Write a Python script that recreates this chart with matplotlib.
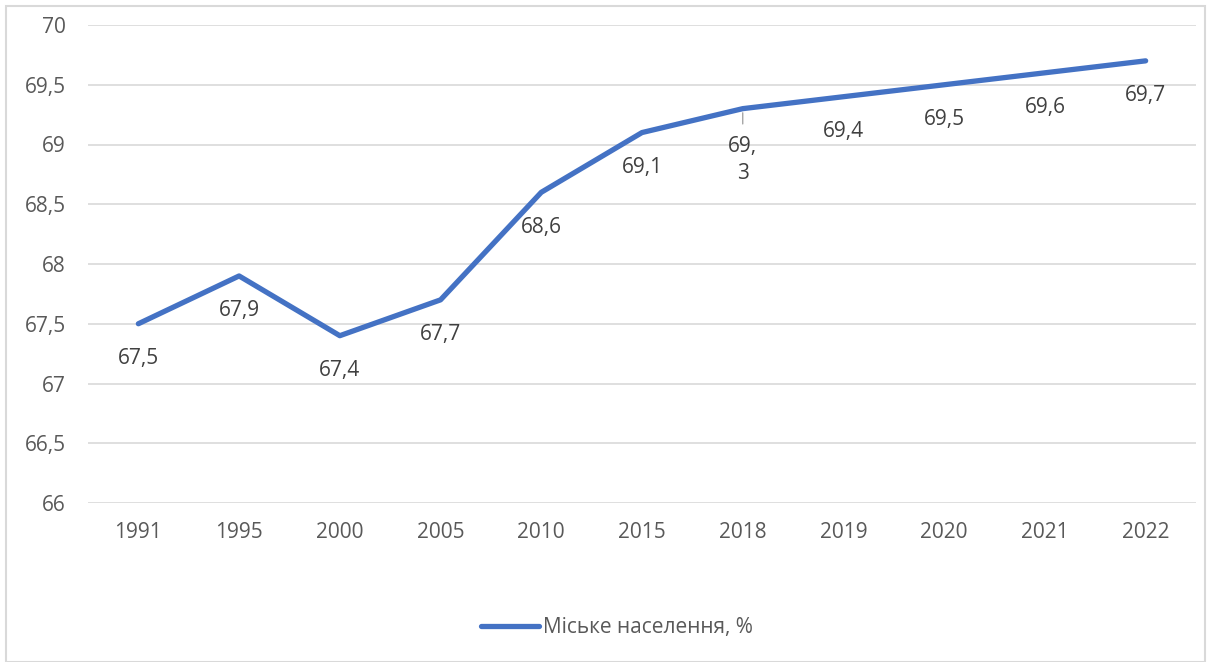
import matplotlib.pyplot as plt
from matplotlib.patches import Rectangle

years = ["1991", "1995", "2000", "2005", "2010", "2015", "2018", "2019", "2020", "2021", "2022"]
urban = [67.5, 67.9, 67.4, 67.7, 68.6, 69.1, 69.3, 69.4, 69.5, 69.6, 69.7]
y_ticks = [66, 66.5, 67, 67.5, 68, 68.5, 69, 69.5, 70]

plt.rcParams['font.family'] = ['Open Sans', 'DejaVu Sans']
grey = "#595959"
fs = 15

fig = plt.figure(figsize=(12.12, 6.62), dpi=100)
fig.patches.append(Rectangle((6 / 1212, 0.0), 1199 / 1212, 656 / 662,
                             transform=fig.transFigure, fill=False,
                             edgecolor="#D9D9D9", linewidth=1.5))
ax = fig.add_axes([88 / 1212, 1 - 503 / 662, 1108 / 1212, 478 / 662])

x = list(range(len(years)))
ax.plot(x, urban, color="#4472C4", linewidth=3.8, solid_capstyle="round",
        label="Міське населення, %")

# data labels below points
for i, v in enumerate(urban):
    txt = f"{v:.1f}".replace(".", ",")
    if years[i] == "2018":
        ax.annotate("", xy=(i, v), xytext=(0, -11), textcoords="offset points",
                    arrowprops=dict(arrowstyle="-", color="#A6A6A6", lw=1,
                                    shrinkA=0, shrinkB=3))
        ax.annotate("69,\n3", xy=(i, v), xytext=(0, -37), textcoords="offset points",
                    ha="center", va="center", fontsize=fs, color="#404040",
                    linespacing=1.4)
    else:
        ax.annotate(txt, xy=(i, v), xytext=(0, -25), textcoords="offset points",
                    ha="center", va="center", fontsize=fs, color="#404040")

ax.set_xlim(-0.5, len(years) - 0.5)
ax.set_ylim(66, 70)
ax.set_xticks(x)
ax.set_xticklabels(years)
ax.set_yticks(y_ticks)
ax.set_yticklabels([f"{t:g}".replace(".", ",") for t in y_ticks])
ax.tick_params(length=0, labelsize=fs, labelcolor=grey)
ax.tick_params(axis="x", pad=14)
ax.tick_params(axis="y", pad=16)
ax.grid(axis="y", color="#D9D9D9", linewidth=1.2)
ax.set_axisbelow(True)
for s in ax.spines.values():
    s.set_visible(False)

fig.legend(loc="center", bbox_to_anchor=(617 / 1212, 1 - 628 / 662), frameon=False,
           fontsize=fs, labelcolor=grey, handlelength=2.8, handletextpad=0.2)

fig.savefig("out.png", dpi=100)
